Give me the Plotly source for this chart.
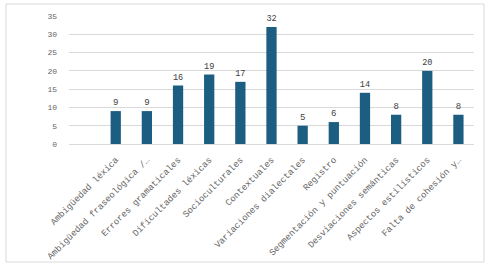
import plotly.graph_objects as go

categories = ["", "Ambigüedad léxica", "Ambigüedad fraseológica /…", "Errores gramaticales",
              "Dificultades léxicas", "Socioculturales", "Contextuales",
              "Variaciones dialectales", "Registro", "Segmentación y puntuación",
              "Desviaciones semánticas", "Aspectos estilísticos", "Falta de cohesión y…"]
values = [None, 9, 9, 16, 19, 17, 32, 5, 6, 14, 8, 20, 8]
y_ticks = [0, 5, 10, 15, 20, 25, 30, 35]

W, H = 489, 267
ml, mr, mt, mb = 69, 15, 16, 123
FONT = "Liberation Mono, Courier New, monospace"

fig = go.Figure(go.Bar(
    x=categories, y=values,
    marker=dict(color="#1B5E82", line=dict(width=0)),
    width=0.33,
    text=[("" if v is None else str(v)) for v in values],
    textposition="outside",
    textfont=dict(family=FONT, size=9, color="#404040"),
    cliponaxis=False,
    hoverinfo="skip",
))

pw = W - ml - mr
ph = H - mt - mb
fig.add_shape(type="rect", xref="paper", yref="paper",
              x0=(6 - ml) / pw, x1=(484 - ml) / pw,
              y0=(H - mb - 262) / ph, y1=(H - mb - 4) / ph,
              line=dict(color="#D9D9D9", width=1), fillcolor="rgba(0,0,0,0)", layer="below")

fig.update_layout(
    width=W, height=H,
    margin=dict(l=ml, r=mr, t=mt, b=mb, pad=0, autoexpand=False),
    paper_bgcolor="white", plot_bgcolor="white",
    showlegend=False,
    font=dict(family=FONT, size=8, color="#595959"),
    xaxis=dict(type="category", tickangle=-45, showgrid=False, showline=True,
               linecolor="#D9D9D9", linewidth=1, ticks="", automargin=False,
               ticklabelstandoff=6,
               tickfont=dict(family=FONT, size=9, color="#666666")),
    yaxis=dict(range=[0, 35], tickvals=y_ticks, showgrid=True, gridcolor="#D9D9D9",
               gridwidth=1, zeroline=False, showline=False, ticks="", automargin=False,
               ticklabelstandoff=11,
               tickfont=dict(family=FONT, size=8, color="#666666")),
    bargap=0.67,
)

fig.write_html("out.html", config={"displayModeBar": False},
               post_script="document.body.style.margin='0';document.body.style.overflow='hidden';")
